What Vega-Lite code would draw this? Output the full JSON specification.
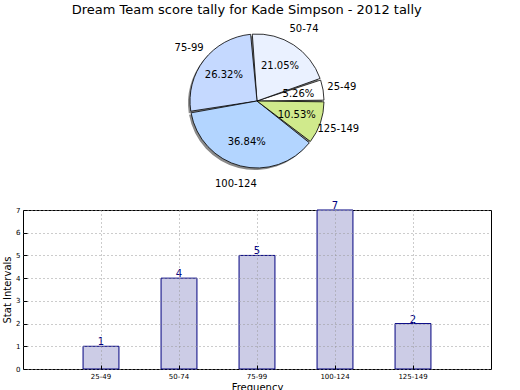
{
  "$schema": "https://vega.github.io/schema/vega-lite/v6.json",
  "padding": {"left": 2, "top": 4, "right": 27, "bottom": 0},
  "bounds": "flush",
  "spacing": 29,
  "title": {"text": "Dream Team score tally for Kade Simpson - 2012 tally", "font": "DejaVu Sans", "fontSize": 13, "fontWeight": "normal", "color": "#000", "anchor": "middle", "offset": 4},
  "config": {"font": "DejaVu Sans", "view": {"stroke": "#000", "strokeWidth": 1}},
  "datasets": {
    "tally": [
      {"interval": "25-49", "count": 1, "pct": "5.26%", "ord": 1},
      {"interval": "50-74", "count": 4, "pct": "21.05%", "ord": 2},
      {"interval": "75-99", "count": 5, "pct": "26.32%", "ord": 3},
      {"interval": "100-124", "count": 7, "pct": "36.84%", "ord": 4},
      {"interval": "125-149", "count": 2, "pct": "10.53%", "ord": 5}
    ]
  },
  "vconcat": [
    {
      "width": 468,
      "height": 160,
      "view": {"stroke": null},
      "data": {"name": "tally"},
      "encoding": {
        "theta": {"field": "count", "type": "quantitative", "stack": true, "scale": {"range": [1.5708, -4.7124]}},
        "order": {"field": "ord", "type": "quantitative"}
      },
      "layer": [
        {"mark": {"type": "arc", "outerRadius": 67, "fill": "#8a8a8a", "xOffset": -2, "yOffset": 2, "padAngle": 0.025}},
        {
          "mark": {"type": "arc", "outerRadius": 67, "stroke": "#000", "strokeWidth": 0.8, "padAngle": 0.025},
          "encoding": {
            "color": {"field": "interval", "type": "nominal", "legend": null,
              "scale": {"domain": ["25-49", "50-74", "75-99", "100-124", "125-149"], "range": ["#ffffff", "#eaf1ff", "#c5d9ff", "#b3d5ff", "#d0ea8c"]}}
          }
        },
        {"mark": {"type": "text", "radius": 42, "fontSize": 10, "color": "#000"}, "encoding": {"text": {"field": "pct"}}},
        {"mark": {"type": "text", "radius": 86, "fontSize": 10, "color": "#000"}, "encoding": {"text": {"field": "interval"}}}
      ]
    },
    {
      "width": 468,
      "height": 159,
      "data": {"name": "tally"},
      "encoding": {
        "x": {"field": "interval", "type": "nominal", "sort": ["25-49", "50-74", "75-99", "100-124", "125-149"],
          "scale": {"paddingInner": 0.54, "paddingOuter": 0.77},
          "axis": {"title": "Frequency", "titleFontSize": 10, "titleFontWeight": "normal", "titleColor": "#000", "titlePadding": 3,
            "labelAngle": 0, "labelFontSize": 7, "labelColor": "#000", "labelPadding": 7,
            "domain": false, "bandPosition": 0.5, "grid": true, "gridDash": [1, 3], "gridColor": "#999", "gridOpacity": 1,
            "tickColor": "#000", "tickSize": -4, "zindex": 1}},
        "y": {"field": "count", "type": "quantitative", "scale": {"domain": [0, 7], "nice": false},
          "axis": {"title": "Stat Intervals", "titleFontSize": 10, "titleFontWeight": "normal", "titleColor": "#000", "titlePadding": 3,
            "values": [0, 1, 2, 3, 4, 5, 6, 7], "labelFontSize": 7, "labelColor": "#000", "labelPadding": 7,
            "domain": false, "grid": true, "gridDash": [1, 3], "gridColor": "#999", "gridOpacity": 1,
            "tickColor": "#000", "tickSize": -4, "zindex": 1}}
      },
      "layer": [
        {"mark": {"type": "bar", "fill": "#cccce6", "stroke": "#000080", "strokeWidth": 1}},
        {"mark": {"type": "text", "dy": 1, "fontSize": 10, "color": "#000080", "baseline": "bottom"}, "encoding": {"text": {"field": "count"}}}
      ]
    }
  ]
}
